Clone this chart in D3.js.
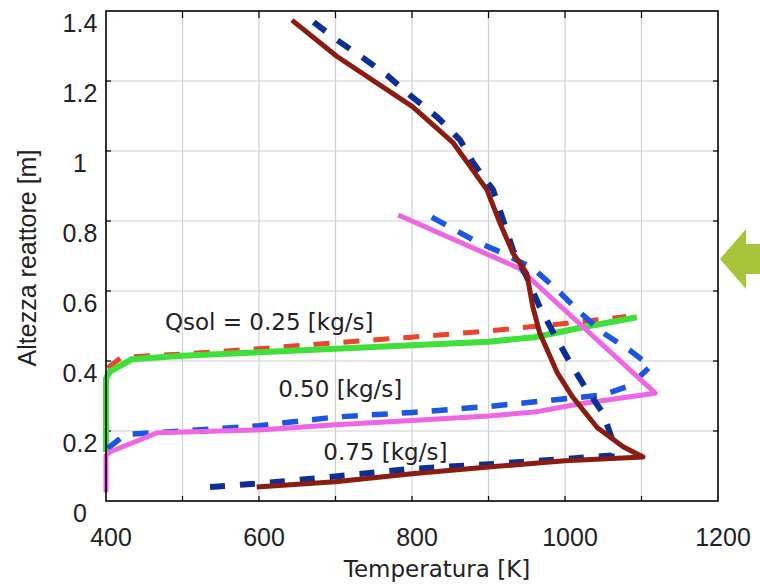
<!DOCTYPE html>
<html>
<head>
<meta charset="utf-8">
<script src="https://cdnjs.cloudflare.com/ajax/libs/d3/7.8.5/d3.min.js"></script>
<style>
  body { margin: 0; background: #fff; }
  svg { display: block; }
</style>
</head>
<body>
<div id="chart"></div>
<script>
// temperature [K] vs reactor height [m]
var xTicks = [400, 600, 800, 1000, 1200];
var xGrid = [500, 600, 700, 800, 900, 1000, 1100];
var yTicks = [0, 0.2, 0.4, 0.6, 0.8, 1, 1.2, 1.4];

// Qsol = 0.25
var q25Dashed = [[402, 0.38], [420, 0.41], [500, 0.42], [600, 0.435], [700, 0.452], [800, 0.468], [900, 0.486], [1000, 0.507], [1080, 0.527]];
var q25Solid = [[400, 0.14], [400, 0.35], [405, 0.37], [434, 0.405], [500, 0.415], [600, 0.425], [700, 0.435], [800, 0.445], [900, 0.455], [960, 0.468], [1020, 0.495], [1094, 0.525]];
// Qsol = 0.50
var q50Dashed = [[402, 0.15], [425, 0.19], [500, 0.2], [600, 0.215], [700, 0.24], [800, 0.253], [900, 0.27], [1000, 0.292], [1050, 0.303], [1085, 0.33], [1112, 0.385], [1085, 0.43], [1050, 0.48], [1016, 0.546], [990, 0.603], [958, 0.665], [919, 0.708], [885, 0.74], [821, 0.817]];
var q50Solid = [[400, 0.025], [400, 0.13], [405, 0.14], [467, 0.195], [600, 0.203], [700, 0.218], [800, 0.23], [900, 0.243], [960, 0.254], [1020, 0.278], [1118, 0.308], [940, 0.665], [782, 0.817]];
// Qsol = 0.75
var q75Dashed = [[536, 0.04], [600, 0.05], [700, 0.07], [800, 0.092], [900, 0.105], [1000, 0.12], [1061, 0.13], [1061, 0.18], [1050, 0.25], [1026, 0.326], [1007, 0.394], [985, 0.48], [967, 0.554], [950, 0.64], [932, 0.717], [919, 0.803], [906, 0.889], [880, 0.966], [863, 1.031], [833, 1.097], [797, 1.16], [767, 1.217], [736, 1.266], [702, 1.317], [671, 1.369]];
var q75Solid = [[597, 0.04], [700, 0.055], [800, 0.078], [900, 0.097], [1000, 0.115], [1102, 0.126], [1076, 0.155], [1042, 0.21], [1010, 0.297], [990, 0.366], [967, 0.48], [958, 0.554], [950, 0.65], [932, 0.708], [915, 0.794], [898, 0.889], [854, 1.023], [801, 1.126], [702, 1.27], [643, 1.374]];

var labels = [
    {text: 'Qsol = 0.25 [kg/s]', t: 477, h: 0.49},
    {text: '0.50 [kg/s]', t: 625, h: 0.297},
    {text: '0.75 [kg/s]', t: 684, h: 0.117}
];

var width = 760, height = 585;
var margin = {top: 11, right: 42, bottom: 84, left: 106};

var x = d3.scaleLinear().domain([400, 1200]).range([margin.left, width - margin.right]);
var y = d3.scaleLinear().domain([0, 1.4]).range([height - margin.bottom, margin.top]);

var svg = d3.select('#chart').append('svg')
    .attr('width', width)
    .attr('height', height);

//grid
svg.selectAll('.gx').data(xGrid).enter().append('line')
    .attr('x1', function (d) { return x(d); }).attr('x2', function (d) { return x(d); })
    .attr('y1', y(0)).attr('y2', y(1.4))
    .attr('stroke', '#cfcfcf').attr('stroke-width', 1.2);
svg.selectAll('.gy').data(yTicks.slice(1, -1)).enter().append('line')
    .attr('x1', x(400)).attr('x2', x(1200))
    .attr('y1', function (d) { return y(d); }).attr('y2', function (d) { return y(d); })
    .attr('stroke', '#cfcfcf').attr('stroke-width', 1.2);

//inner ticks on all four sides
var tickLen = 5;
xGrid.forEach(function (d) {
    svg.append('line').attr('x1', x(d)).attr('x2', x(d)).attr('y1', y(0)).attr('y2', y(0) - tickLen)
        .attr('stroke', '#000').attr('stroke-width', 1.2);
    svg.append('line').attr('x1', x(d)).attr('x2', x(d)).attr('y1', y(1.4)).attr('y2', y(1.4) + tickLen + 2)
        .attr('stroke', '#000').attr('stroke-width', 1.2);
});
yTicks.slice(1, -1).forEach(function (d) {
    svg.append('line').attr('x1', x(400)).attr('x2', x(400) + tickLen).attr('y1', y(d)).attr('y2', y(d))
        .attr('stroke', '#000').attr('stroke-width', 1.2);
    svg.append('line').attr('x1', x(1200)).attr('x2', x(1200) - tickLen).attr('y1', y(d)).attr('y2', y(d))
        .attr('stroke', '#000').attr('stroke-width', 1.2);
});

//series
var line = d3.line()
    .x(function (d) { return x(d[0]); })
    .y(function (d) { return y(d[1]); });

var series = [
    {data: q25Dashed, color: '#e8452c', w: 5, dash: '16,14'},
    {data: q25Solid, color: '#3fe03a', w: 6, dash: null},
    {data: q50Dashed, color: '#1a56e0', w: 5.5, dash: '16,14'},
    {data: q50Solid, color: '#ee66e4', w: 5, dash: null},
    {data: q75Dashed, color: '#0a2f96', w: 6, dash: '15,15'},
    {data: q75Solid, color: '#8b1c12', w: 5, dash: null}
];
series.forEach(function (s) {
    svg.append('path')
        .datum(s.data)
        .attr('d', line)
        .attr('fill', 'none')
        .attr('stroke', s.color)
        .attr('stroke-width', s.w)
        .attr('stroke-linejoin', 'round')
        .attr('stroke-dasharray', s.dash);
});

//frame
svg.append('rect')
    .attr('x', x(400)).attr('y', y(1.4))
    .attr('width', x(1200) - x(400)).attr('height', y(0) - y(1.4))
    .attr('fill', 'none').attr('stroke', '#000').attr('stroke-width', 1.6);

//tick labels
svg.selectAll('.xl').data(xTicks).enter().append('text')
    .attr('x', function (d) { return x(d) + 5; })
    .attr('y', y(0) + 45)
    .attr('text-anchor', 'middle')
    .attr('font-family', 'Liberation Sans, Arial, sans-serif')
    .attr('font-size', 25)
    .attr('fill', '#222')
    .text(function (d) { return d; });
svg.selectAll('.yl').data(yTicks).enter().append('text')
    .attr('x', margin.left - 26)
    .attr('y', function (d) { return y(d) + 21; })
    .attr('text-anchor', 'middle')
    .attr('font-family', 'Liberation Sans, Arial, sans-serif')
    .attr('font-size', 25)
    .attr('fill', '#222')
    .text(function (d) { return d; });

//axis titles
svg.append('text')
    .attr('x', 437).attr('y', 577)
    .attr('text-anchor', 'middle')
    .attr('font-family', 'DejaVu Sans, sans-serif')
    .attr('font-size', 23)
    .attr('fill', '#222')
    .text('Temperatura [K]');
svg.append('text')
    .attr('transform', 'translate(36,258) rotate(-90)')
    .attr('text-anchor', 'middle')
    .attr('font-family', 'Liberation Sans, Arial, sans-serif')
    .attr('font-size', 25)
    .attr('fill', '#222')
    .text('Altezza reattore [m]');

//flow labels (x, y = start of the text baseline)
labels.forEach(function (l) {
    svg.append('text')
        .attr('x', x(l.t)).attr('y', y(l.h))
        .attr('text-anchor', 'start')
        .attr('font-family', 'DejaVu Sans, sans-serif')
        .attr('font-size', 23)
        .attr('fill', '#222')
        .text(l.text);
});

//arrow on the right
var ax = x(1200) + 2, ay = 259;
svg.append('path')
    .attr('d', 'M' + ax + ',' + ay + 'L' + (ax + 26) + ',' + (ay - 30) + 'L' + (ax + 26) + ',' + (ay - 15) +
        'L' + width + ',' + (ay - 15) + 'L' + width + ',' + (ay + 15) + 'L' + (ax + 26) + ',' + (ay + 15) +
        'L' + (ax + 26) + ',' + (ay + 30) + 'Z')
    .attr('fill', '#a8c43a');
</script>
</body>
</html>
